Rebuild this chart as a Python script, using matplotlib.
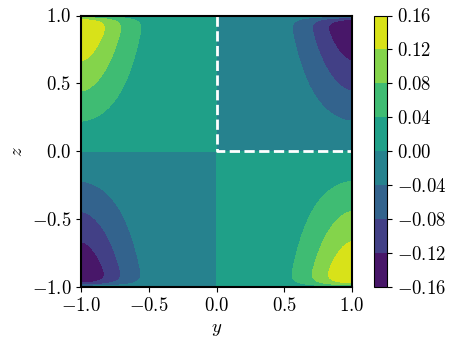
import numpy as np
import matplotlib
matplotlib.use("Agg")
import matplotlib.pyplot as plt

plt.rcParams["font.family"] = "serif"
plt.rcParams["font.serif"] = ["cmr10"]
plt.rcParams["mathtext.fontset"] = "cm"
plt.rcParams["axes.formatter.use_mathtext"] = True
plt.rcParams["font.size"] = 13.5

# field: antisymmetric in y and z, grows linearly with z
# along the side walls, thin layer at z = +-1, decays away from y = +-1
amplitude = 0.18
side_width = 0.365
side_power = 1.7
wall_layer = 0.026
levels = [-0.16, -0.12, -0.08, -0.04, 0.00, 0.04, 0.08, 0.12, 0.16]
cbar_ticks = [-0.16, -0.12, -0.08, -0.04, 0.00, 0.04, 0.08, 0.12, 0.16]
axis_ticks = [-1.0, -0.5, 0.0, 0.5, 1.0]

# dashed outline of the quarter domain
box_y = [0.0, 0.0, 1.0]
box_z = [1.0, 0.0, 0.0]

y = np.linspace(-1, 1, 501)
z = np.linspace(-1, 1, 501)
Y, Z = np.meshgrid(y, z)
layer = 1.0 - np.exp(-(1.0 - np.abs(Z)) / wall_layer)
side = np.exp(-((1.0 - np.abs(Y)) / side_width) ** side_power)
F = -np.sign(Y) * amplitude * Z * layer * side

fig = plt.figure(figsize=(4.55, 3.46), dpi=100)
ax = fig.add_axes([81 / 455, 59 / 346, 271 / 455, 271.5 / 346])
cax = fig.add_axes([374 / 455, 59 / 346, 13 / 455, 271.5 / 346])

cs = ax.contourf(Y, Z, F, levels=levels, cmap="viridis")
ax.plot(box_y, box_z, color="white", linestyle="--", linewidth=2)

ax.set_xlim(-1, 1)
ax.set_ylim(-1, 1)
ax.set_xticks(axis_ticks)
ax.set_yticks(axis_ticks)
ax.set_xlabel("$y$")
ax.set_ylabel("$z$")
for sp in ax.spines.values():
    sp.set_linewidth(1.5)

cb = fig.colorbar(cs, cax=cax, ticks=cbar_ticks)
cb.ax.yaxis.set_major_formatter(matplotlib.ticker.FormatStrFormatter(r"$%.2f$"))

fig.savefig("out.png", dpi=100)
